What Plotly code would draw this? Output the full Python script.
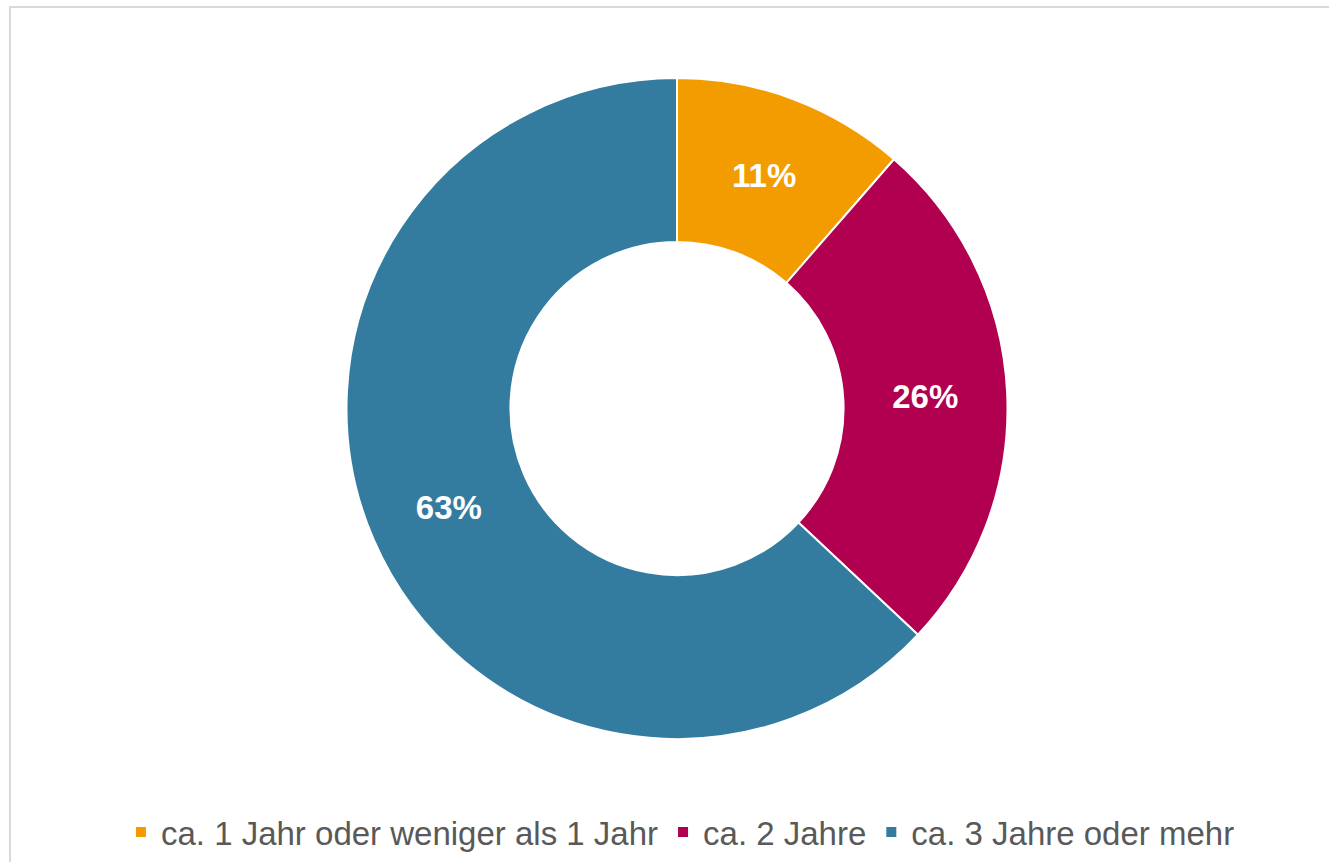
import plotly.graph_objects as go

labels = ["ca. 1 Jahr oder weniger als 1 Jahr", "ca. 2 Jahre", "ca. 3 Jahre oder mehr"]
values = [11.4, 25.6, 63.0]
colors = ["#F39C00", "#B0004F", "#337C9F"]

fig = go.Figure()
fig.add_trace(go.Pie(
    labels=labels,
    values=values,
    hole=0.504,
    sort=False,
    direction="clockwise",
    rotation=0,
    marker=dict(colors=colors, line=dict(color="#FFFFFF", width=2)),
    textinfo="percent",
    texttemplate="%{percent:.0%}",
    textposition="inside",
    insidetextorientation="horizontal",
    textfont=dict(family="Liberation Sans, Arial, sans-serif", size=33, color="#FFFFFF", weight="bold"),
    showlegend=True,
))

fig.add_shape(
    type="rect", xref="paper", yref="paper",
    x0=(10 - 25) / 1304, x1=1.05, y0=-0.3, y1=(739 - 7) / 661,
    line=dict(color="#D9D9D9", width=2), fillcolor="rgba(0,0,0,0)", layer="below",
)

fig.update_layout(
    width=1329, height=862,
    margin=dict(l=25, r=0, t=78, b=123),
    paper_bgcolor="#FFFFFF",
    plot_bgcolor="#FFFFFF",
    font=dict(family="Liberation Sans, Arial, sans-serif", color="#595959"),
    legend=dict(
        orientation="h",
        xref="container", yref="container",
        x=0.512, xanchor="center",
        y=1 - 832 / 862, yanchor="middle",
        font=dict(size=33, color="#595959"),
        traceorder="normal",
    ),
)

fig.write_html(
    "out.html",
    config={"displayModeBar": False},
    post_script="document.body.style.margin='0px';document.body.style.overflow='hidden';",
)
